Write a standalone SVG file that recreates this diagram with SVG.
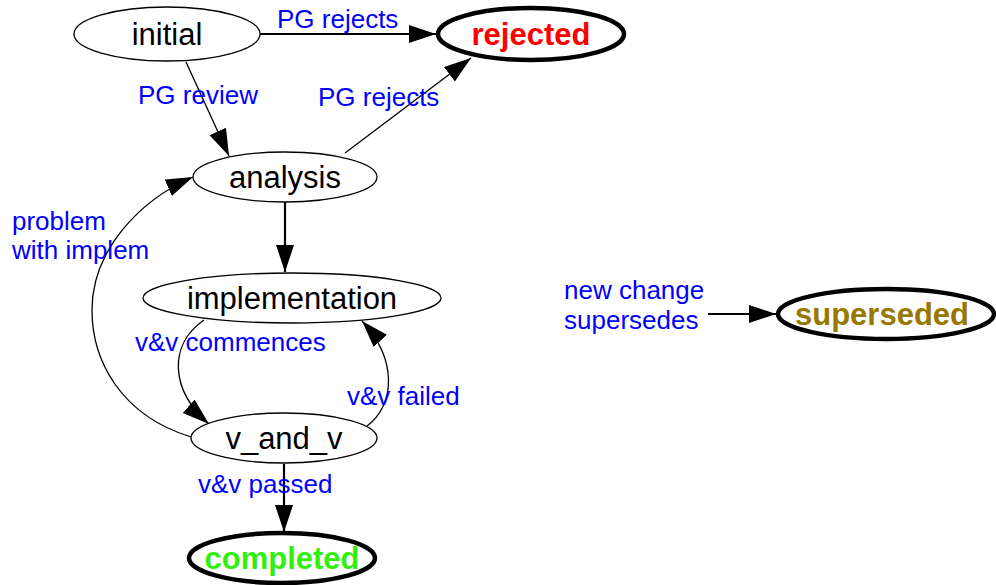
<svg xmlns="http://www.w3.org/2000/svg" width="996" height="585" viewBox="0 0 996 585">
<style>
.n{fill:#fff;stroke:#000;stroke-width:1.3}
.t{stroke:#000;stroke-width:4.5;fill:#fff}
.nl{font-family:"Liberation Sans",Arial,sans-serif;font-size:31px;text-anchor:middle;fill:#000}
.b{font-weight:bold}
.el{font-family:"Liberation Sans",Arial,sans-serif;font-size:26px;fill:#0000ff}
.e{fill:none;stroke:#000;stroke-width:1.3;marker-end:url(#ah)}
.e2{fill:none;stroke:#000;stroke-width:2.2;marker-end:url(#ah)}
</style>
<defs>
<marker id="ah" markerUnits="userSpaceOnUse" markerWidth="30" markerHeight="20" refX="27" refY="9" orient="auto">
<path d="M0,0 L27,9 L0,18 Z" fill="#000"/>
</marker>
</defs>
<rect width="996" height="585" fill="#fff"/>
<g id="edges">
<line class="e2" x1="260" y1="34" x2="436" y2="34"/>
<line class="e" x1="186" y1="62" x2="229" y2="156"/>
<line class="e" x1="345" y1="153" x2="471" y2="58"/>
<line class="e2" x1="285" y1="202" x2="285" y2="272"/>
<path class="e" d="M204,320 C168,345 170,390 209,424"/>
<path class="e" d="M367,426 C395,405 398,360 362,321"/>
<path class="e" d="M191,437 C120,415 92,360 92,310 C92,250 140,200 193,177"/>
<line class="e2" x1="284" y1="464" x2="284" y2="532"/>
<line class="e2" x1="708" y1="314" x2="776" y2="314"/>
<text class="el" x="277" y="28">PG rejects</text>
<text class="el" x="138" y="104">PG review</text>
<text class="el" x="318" y="106">PG rejects</text>
<text class="el" x="12" y="230">problem</text>
<text class="el" x="12" y="259">with implem</text>
<text class="el" x="135" y="351">v&amp;v commences</text>
<text class="el" x="347" y="405">v&amp;v failed</text>
<text class="el" x="198" y="493">v&amp;v passed</text>
<text class="el" x="564" y="299">new change</text>
<text class="el" x="564" y="329">supersedes</text>
</g>
<g id="initial">
<ellipse class="n" cx="167" cy="34" rx="93" ry="27"/>
<text class="nl" x="167" y="45">initial</text>
</g>
<g id="rejected">
<ellipse class="t" cx="531" cy="34" rx="93" ry="26"/>
<text class="nl b" x="531" y="45" fill="#ff0000" style="fill:#ff0000">rejected</text>
</g>
<g id="analysis">
<ellipse class="n" cx="285" cy="177" rx="92" ry="25"/>
<text class="nl" x="285" y="188">analysis</text>
</g>
<g id="implementation">
<ellipse class="n" cx="292" cy="298" rx="149" ry="25"/>
<text class="nl" x="292" y="309">implementation</text>
</g>
<g id="v_and_v">
<ellipse class="n" cx="284" cy="438" rx="93" ry="25"/>
<text class="nl" x="284" y="449">v_and_v</text>
</g>
<g id="completed">
<ellipse class="t" cx="282" cy="558" rx="93" ry="25"/>
<text class="nl b" x="282" y="569" style="fill:#33ee11">completed</text>
</g>
<g id="superseded">
<ellipse class="t" cx="886" cy="314" rx="108" ry="25"/>
<text class="nl b" x="882" y="325" style="fill:#977800">superseded</text>
</g>
</svg>
